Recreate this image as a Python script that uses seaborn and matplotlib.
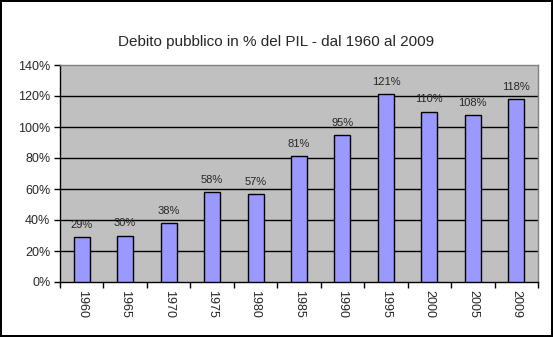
import matplotlib
matplotlib.use("Agg")
import matplotlib.pyplot as plt
import seaborn as sns
import pandas as pd
from matplotlib.ticker import FixedLocator, PercentFormatter

years = ["1960", "1965", "1970", "1975", "1980", "1985", "1990", "1995", "2000", "2005", "2009"]
debt_pct = [29, 30, 38, 58, 57, 81, 95, 121, 110, 108, 118]
title = "Debito pubblico in % del PIL - dal 1960 al 2009"

df = pd.DataFrame({"anno": years, "debito": debt_pct})

sns.set_theme(style="white")
plt.rcParams["font.family"] = ["Liberation Sans", "DejaVu Sans"]

fig = plt.figure(figsize=(5.53, 3.37), dpi=100, linewidth=1.5, edgecolor="black")
ax = fig.add_axes([60 / 553, 55 / 337, 478 / 553, 217 / 337])
ax.set_facecolor("#C0C0C0")

sns.barplot(data=df, x="anno", y="debito", color="#9999FF", saturation=1,
            edgecolor="black", linewidth=1, width=0.37, ax=ax, zorder=3)

# value labels sit a fixed distance above each bar
for i, v in enumerate(debt_pct):
    ax.annotate(f"{v}%", xy=(i, v), xytext=(0, 6.5), textcoords="offset points",
                ha="center", va="baseline", fontsize=8, zorder=4)

ax.set_ylim(0, 140)
ax.set_xlim(-0.5, len(years) - 0.5)
ax.set_yticks(range(0, 141, 20))
ax.yaxis.set_major_formatter(PercentFormatter(decimals=0))
for y in range(20, 140, 20):
    ax.axhline(y, color="black", linewidth=1, zorder=1)

ax.xaxis.set_minor_locator(FixedLocator([i - 0.5 for i in range(len(years) + 1)]))
ax.tick_params(axis="x", which="major", length=0, pad=6, labelsize=9, labelrotation=270)
ax.tick_params(axis="x", which="minor", length=4, width=1, color="black", direction="out", bottom=True)
ax.tick_params(axis="y", which="major", length=4, width=1, color="black", direction="out", left=True, labelsize=9, pad=3)
for lbl in ax.get_xticklabels():
    lbl.set_va("top")

ax.set_xlabel("")
ax.set_ylabel("")
ax.spines["left"].set_color("black")
ax.spines["bottom"].set_color("black")
ax.spines["top"].set_color("#808080")
ax.spines["right"].set_color("#808080")
for s in ax.spines.values():
    s.set_linewidth(1)
    s.set_visible(True)

fig.text(0.5, 1 - 42 / 337, title, ha="center", va="center", fontsize=11)

fig.savefig("out.png", dpi=100, edgecolor=fig.get_edgecolor())
